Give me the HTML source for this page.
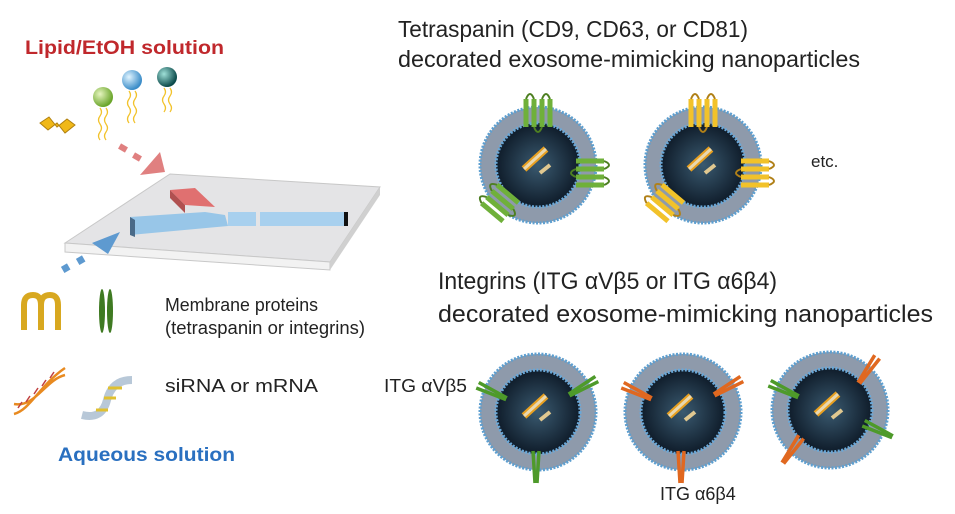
<!DOCTYPE html>
<html><head><meta charset="utf-8"><style>
body{margin:0;background:#fff}
svg{display:block}
text{font-family:"Liberation Sans",sans-serif}
</style></head><body>
<svg width="955" height="514" viewBox="0 0 955 514" xmlns="http://www.w3.org/2000/svg">
<defs>
<radialGradient id="core" cx="50%" cy="50%" r="50%">
<stop offset="0" stop-color="#3a5a70"/><stop offset="1" stop-color="#0f1c2a"/></radialGradient>
<radialGradient id="gb" cx="35%" cy="35%" r="65%"><stop offset="0" stop-color="#e6f5c0"/><stop offset="1" stop-color="#6aa52a"/></radialGradient>
<radialGradient id="bb" cx="35%" cy="35%" r="65%"><stop offset="0" stop-color="#e0f4ff"/><stop offset="1" stop-color="#3a8cc8"/></radialGradient>
<radialGradient id="tb" cx="35%" cy="35%" r="65%"><stop offset="0" stop-color="#9fe0d8"/><stop offset="1" stop-color="#0b4a4a"/></radialGradient>
<g id="np">
<circle r="58" fill="#8e9aab" stroke="#5d9fd0" stroke-width="3" stroke-dasharray="2 1.5"/>
<circle r="42" fill="url(#core)" stroke="#6aa8d8" stroke-width="3" stroke-dasharray="2 1.5"/>
<path d="M-14,4 L8,-16" stroke="#e8a020" stroke-width="7"/>
<path d="M-14,4 L8,-16" stroke="#e8d8b0" stroke-width="3"/>
<path d="M2,8 L12,0" stroke="#e0c890" stroke-width="4"/>
</g>
<g id="tetG" fill="none" stroke-width="5" stroke="#6fb03a">
<path d="M-12,-14 V14 M-4,-14 V14 M4,-14 V14 M12,-14 V14"/>
<path d="M-12,-14 q4,-10 8,0 M4,-14 q4,-10 8,0 M-4,14 q4,10 8,0" stroke="#4e7f22" stroke-width="2"/>
</g>
<g id="tetY" fill="none" stroke-width="5" stroke="#f2c22a">
<path d="M-12,-14 V14 M-4,-14 V14 M4,-14 V14 M12,-14 V14"/>
<path d="M-12,-14 q4,-10 8,0 M4,-14 q4,-10 8,0 M-4,14 q4,10 8,0" stroke="#b08018" stroke-width="2"/>
</g>
<g id="itG"><path d="M-3,-16 L-1,16 M3,-16 L1,16" stroke="#4e9a2a" stroke-width="3.5"/></g>
<g id="itO"><path d="M-3,-16 L-1,16 M3,-16 L1,16" stroke="#e06820" stroke-width="3.5"/></g>
</defs>

<text x="25" y="54" font-size="19" font-weight="bold" fill="#c0282c" textLength="199" lengthAdjust="spacingAndGlyphs">Lipid/EtOH solution</text>
<text x="398" y="37" font-size="23" fill="#222" textLength="350" lengthAdjust="spacingAndGlyphs">Tetraspanin (CD9, CD63, or CD81)</text>
<text x="398" y="67" font-size="23" fill="#222" textLength="462" lengthAdjust="spacingAndGlyphs">decorated exosome-mimicking nanoparticles</text>
<text x="438" y="289" font-size="24" fill="#222" textLength="339" lengthAdjust="spacingAndGlyphs">Integrins (ITG αVβ5 or ITG α6β4)</text>
<text x="438" y="322" font-size="24" fill="#222" textLength="495" lengthAdjust="spacingAndGlyphs">decorated exosome-mimicking nanoparticles</text>
<text x="811" y="167" font-size="17" fill="#222">etc.</text>
<text x="165" y="311" font-size="18" fill="#222" textLength="153" lengthAdjust="spacingAndGlyphs">Membrane proteins</text>
<text x="165" y="334" font-size="18" fill="#222" textLength="200" lengthAdjust="spacingAndGlyphs">(tetraspanin or integrins)</text>
<text x="165" y="392" font-size="18" fill="#222" textLength="153" lengthAdjust="spacingAndGlyphs">siRNA or mRNA</text>
<text x="58" y="461" font-size="19" font-weight="bold" fill="#2a70c0" textLength="177" lengthAdjust="spacingAndGlyphs">Aqueous solution</text>
<text x="384" y="392" font-size="18" fill="#222" textLength="83" lengthAdjust="spacingAndGlyphs">ITG αVβ5</text>
<text x="660" y="500" font-size="18" fill="#222">ITG α6β4</text>

<!-- lipids -->
<circle cx="103" cy="97" r="10" fill="url(#gb)"/><circle cx="132" cy="80" r="10" fill="url(#bb)"/><circle cx="167" cy="77" r="10" fill="url(#tb)"/>
<g stroke="#f2c22a" stroke-width="1.3" fill="none">
<path d="M100,108 q3,4 0,8 q-3,4 0,8 q3,4 0,8 q-3,4 0,8 M106,108 q3,4 0,8 q-3,4 0,8 q3,4 0,8 q-3,4 0,8"/>
<path d="M129,91 q3,4 0,8 q-3,4 0,8 q3,4 0,8 q-3,4 0,8 M135,91 q3,4 0,8 q-3,4 0,8 q3,4 0,8 q-3,4 0,8"/>
<path d="M164,88 q3,4 0,8 q-3,4 0,8 q3,4 0,8 M170,88 q3,4 0,8 q-3,4 0,8 q3,4 0,8"/>
</g>
<path d="M40,123 l9,-6 l8,10 l10,-8 l8,6 l-10,8 l-8,-10 l-9,7 z" fill="#f0b818" stroke="#b08010"/>
<!-- red arrow -->
<g fill="#e08080"><rect x="119" y="145" width="8" height="6" transform="rotate(30 123 148)"/><rect x="133" y="154" width="8" height="6" transform="rotate(30 137 157)"/>
<polygon points="140,175 160,152 165,172"/></g>
<!-- chip -->
<polygon points="65,243 170,174 380,187 330,262" fill="#e4e4e6" stroke="#c8c8c8"/>
<polygon points="65,243 330,262 330,270 65,252" fill="#f2f2f2" stroke="#c8c8c8"/>
<polygon points="330,262 380,187 380,195 330,270" fill="#d0d0d0"/>
<polygon points="170,190 195,188 215,207 185,205" fill="#e07070"/>
<polygon points="170,190 170,198 185,213 185,205" fill="#b05050"/>
<polygon points="130,217 205,212 225,215 228,226 130,235" fill="#98c6e8"/>
<polygon points="130,217 130,235 135,237 135,220" fill="#4a6a88"/>
<rect x="228" y="212" width="28" height="14" fill="#a8d0ee"/>
<rect x="260" y="212" width="86" height="14" fill="#a8d0ee"/>
<rect x="344" y="212" width="4" height="14" fill="#111"/>
<!-- blue arrow -->
<g fill="#5e9ad0"><rect x="62" y="265" width="7" height="7" transform="rotate(-30 65 268)"/><rect x="77" y="257" width="7" height="7" transform="rotate(-30 80 260)"/>
<polygon points="92,243 120,232 108,254"/></g>
<!-- legend icons -->
<path d="M24,330 v-25 q0,-10 9,-10 q8,0 8,10 v25 M41,305 q0,-10 9,-10 q8,0 8,10 v25" stroke="#d8a820" stroke-width="6" fill="none"/>
<ellipse cx="102" cy="311" rx="3" ry="22" fill="#3f7a22"/><ellipse cx="110" cy="311" rx="3" ry="22" fill="#3f7a22"/>
<path d="M14,414 C30,410 40,385 65,368 M14,404 C35,408 45,380 65,375" stroke="#e88a20" stroke-width="2.5" fill="none"/>
<path d="M18,408 l4,-6 M26,402 l4,-6 M34,394 l4,-6 M42,386 l4,-6 M50,378 l4,-6" stroke="#c04040" stroke-width="1.5"/>
<path d="M82,415 q20,5 25,-15 q5,-20 25,-20" stroke="#b8c8d8" stroke-width="8" fill="none"/>
<path d="M108,388 h14 M104,398 h12 M96,410 h12" stroke="#e0c030" stroke-width="3"/>

<!-- top particles -->
<g transform="translate(538,165)"><use href="#np"/>
<use href="#tetG" transform="translate(0,-52)"/><use href="#tetG" transform="translate(52,8) rotate(90)"/><use href="#tetG" transform="translate(-38,38) rotate(-50)"/></g>
<g transform="translate(703,165)"><use href="#np"/>
<use href="#tetY" transform="translate(0,-52)"/><use href="#tetY" transform="translate(52,8) rotate(90)"/><use href="#tetY" transform="translate(-38,38) rotate(-50)"/></g>
<!-- bottom particles -->
<g transform="translate(538,412)"><use href="#np"/>
<use href="#itG" transform="translate(-46,-20) rotate(-65)"/><use href="#itG" transform="translate(45,-25) rotate(60)"/><use href="#itG" transform="translate(-2,55)"/></g>
<g transform="translate(683,412)"><use href="#np"/>
<use href="#itO" transform="translate(-46,-20) rotate(-65)"/><use href="#itO" transform="translate(45,-25) rotate(60)"/><use href="#itO" transform="translate(-2,55)"/></g>
<g transform="translate(830,410)"><use href="#np"/>
<use href="#itG" transform="translate(-46,-20) rotate(-65)"/><use href="#itO" transform="translate(38,-40) rotate(35)"/><use href="#itG" transform="translate(48,20) rotate(-65)"/><use href="#itO" transform="translate(-38,40) rotate(35)"/></g>
</svg>
</body></html>
